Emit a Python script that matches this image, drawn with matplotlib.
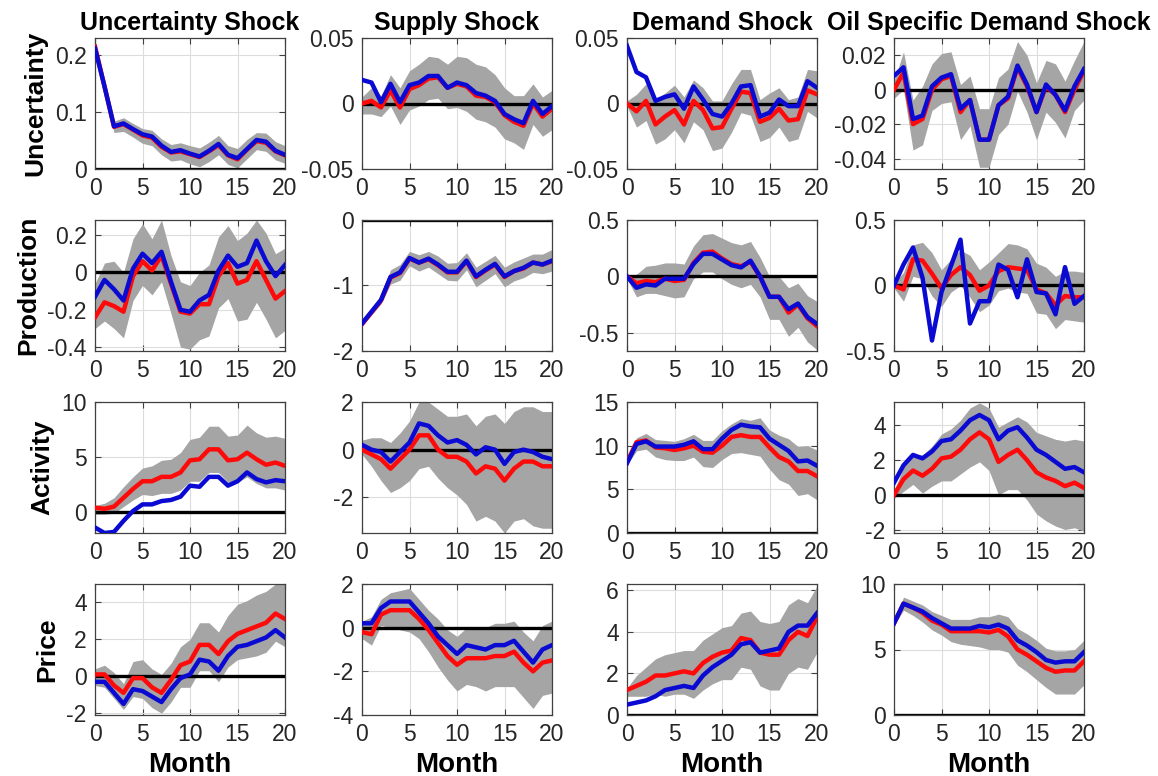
import numpy as np
import matplotlib.pyplot as plt
from matplotlib.ticker import FuncFormatter

plt.rcParams['font.family'] = ['Liberation Sans', 'DejaVu Sans']

months = np.arange(21)
shock_titles = ['Uncertainty Shock', 'Supply Shock', 'Demand Shock', 'Oil Specific Demand Shock']
response_labels = ['Uncertainty', 'Production', 'Activity', 'Price']

# ---------------- Uncertainty response ----------------
unc_u_red = [0.215, 0.145, 0.074, 0.079, 0.069, 0.059, 0.055, 0.039, 0.029, 0.031, 0.026, 0.021, 0.031, 0.042, 0.024, 0.017, 0.034, 0.049, 0.046, 0.031, 0.024]
unc_u_blue = [0.212, 0.145, 0.075, 0.080, 0.070, 0.061, 0.057, 0.041, 0.030, 0.033, 0.027, 0.022, 0.032, 0.044, 0.025, 0.019, 0.035, 0.051, 0.048, 0.032, 0.025]
unc_u_hi = [0.220, 0.152, 0.084, 0.090, 0.080, 0.071, 0.068, 0.053, 0.043, 0.046, 0.041, 0.037, 0.047, 0.059, 0.041, 0.036, 0.052, 0.064, 0.063, 0.048, 0.041]
unc_u_lo = [0.208, 0.138, 0.064, 0.066, 0.056, 0.045, 0.041, 0.025, 0.014, 0.016, 0.009, 0.004, 0.013, 0.025, 0.008, 0.002, 0.018, 0.034, 0.031, 0.016, 0.010]

sup_u_red = [0.000, 0.002, -0.003, 0.010, -0.003, 0.011, 0.014, 0.019, 0.020, 0.012, 0.015, 0.013, 0.006, 0.005, 0.001, -0.009, -0.014, -0.017, 0.000, -0.010, -0.004]
sup_u_blue = [0.018, 0.016, 0.001, 0.015, 0.001, 0.014, 0.016, 0.021, 0.021, 0.012, 0.016, 0.014, 0.008, 0.006, 0.002, -0.008, -0.012, -0.015, 0.002, -0.008, -0.002]
sup_u_hi = [0.005, 0.012, 0.006, 0.022, 0.012, 0.025, 0.030, 0.036, 0.035, 0.030, 0.036, 0.035, 0.030, 0.028, 0.022, 0.012, 0.006, 0.006, 0.015, 0.005, 0.010]
sup_u_lo = [-0.008, -0.008, -0.010, -0.002, -0.016, -0.005, -0.002, 0.003, 0.004, -0.004, -0.003, -0.006, -0.012, -0.014, -0.018, -0.027, -0.030, -0.035, -0.016, -0.025, -0.020]

dem_u_red = [0.000, -0.006, 0.002, -0.016, -0.010, -0.005, -0.016, 0.002, -0.005, -0.019, -0.018, -0.004, 0.009, 0.008, -0.014, -0.011, -0.004, -0.013, -0.012, 0.010, 0.007]
dem_u_blue = [0.044, 0.024, 0.020, 0.002, 0.005, 0.007, -0.004, 0.013, 0.003, -0.008, -0.010, 0.000, 0.013, 0.014, -0.010, -0.007, 0.003, -0.002, -0.002, 0.017, 0.012]
dem_u_hi = [0.002, 0.007, 0.015, 0.003, 0.008, 0.014, 0.005, 0.018, 0.012, 0.002, 0.002, 0.015, 0.026, 0.026, 0.003, 0.008, 0.012, 0.003, 0.005, 0.026, 0.025]
dem_u_lo = [-0.002, -0.018, -0.013, -0.031, -0.027, -0.020, -0.030, -0.014, -0.020, -0.036, -0.034, -0.022, -0.007, -0.009, -0.029, -0.026, -0.018, -0.029, -0.027, -0.006, -0.011]

oil_u_red = [0.000, 0.010, -0.020, -0.017, 0.000, 0.006, 0.008, -0.013, -0.006, -0.029, -0.029, -0.009, -0.005, 0.013, 0.002, -0.013, 0.002, -0.003, -0.013, 0.000, 0.011]
oil_u_blue = [0.008, 0.013, -0.017, -0.015, 0.002, 0.007, 0.009, -0.011, -0.006, -0.029, -0.029, -0.009, -0.004, 0.014, 0.003, -0.013, 0.003, -0.003, -0.012, 0.002, 0.012]
oil_u_hi = [0.005, 0.022, -0.006, 0.002, 0.015, 0.021, 0.022, 0.003, 0.008, -0.011, -0.011, 0.007, 0.012, 0.028, 0.020, 0.004, 0.017, 0.015, 0.005, 0.017, 0.028]
oil_u_lo = [-0.005, 0.000, -0.035, -0.032, -0.012, -0.008, -0.007, -0.029, -0.021, -0.045, -0.045, -0.026, -0.020, -0.001, -0.013, -0.029, -0.013, -0.019, -0.028, -0.012, -0.006]

# ---------------- Production response ----------------
unc_q_red = [-0.24, -0.16, -0.18, -0.21, -0.02, 0.06, 0.01, 0.09, -0.06, -0.21, -0.22, -0.17, -0.17, -0.02, 0.05, -0.06, -0.04, 0.06, -0.04, -0.14, -0.10]
unc_q_blue = [-0.13, -0.04, -0.09, -0.15, 0.02, 0.10, 0.05, 0.11, -0.05, -0.20, -0.21, -0.15, -0.12, 0.01, 0.09, 0.03, 0.05, 0.17, 0.06, -0.02, 0.04]
unc_q_hi = [-0.06, 0.05, 0.06, 0.00, 0.18, 0.26, 0.18, 0.28, 0.09, -0.05, -0.07, 0.00, 0.04, 0.19, 0.25, 0.17, 0.21, 0.28, 0.21, 0.10, 0.13]
unc_q_lo = [-0.30, -0.26, -0.30, -0.35, -0.15, -0.07, -0.12, -0.05, -0.22, -0.40, -0.41, -0.36, -0.34, -0.19, -0.14, -0.26, -0.25, -0.16, -0.25, -0.35, -0.31]

sup_q_red = [-1.59, -1.41, -1.23, -0.88, -0.81, -0.59, -0.65, -0.60, -0.69, -0.80, -0.80, -0.63, -0.87, -0.77, -0.68, -0.87, -0.78, -0.74, -0.65, -0.68, -0.63]
sup_q_blue = [-1.58, -1.40, -1.22, -0.87, -0.80, -0.58, -0.65, -0.59, -0.68, -0.79, -0.79, -0.62, -0.86, -0.76, -0.67, -0.86, -0.78, -0.73, -0.65, -0.68, -0.62]
sup_q_hi = [-1.55, -1.35, -1.15, -0.76, -0.68, -0.48, -0.53, -0.48, -0.55, -0.66, -0.65, -0.50, -0.72, -0.63, -0.54, -0.72, -0.64, -0.58, -0.52, -0.52, -0.45]
sup_q_lo = [-1.62, -1.45, -1.28, -0.98, -0.92, -0.70, -0.78, -0.72, -0.82, -0.92, -0.93, -0.76, -1.02, -0.92, -0.82, -1.02, -0.93, -0.88, -0.80, -0.82, -0.78]

dem_q_red = [0.00, -0.06, -0.04, -0.05, -0.02, -0.04, -0.03, 0.12, 0.21, 0.22, 0.16, 0.11, 0.09, 0.13, 0.00, -0.18, -0.18, -0.32, -0.25, -0.37, -0.44]
dem_q_blue = [0.00, -0.10, -0.07, -0.08, -0.02, -0.02, -0.02, 0.11, 0.20, 0.20, 0.15, 0.10, 0.08, 0.14, 0.00, -0.18, -0.18, -0.29, -0.24, -0.36, -0.42]
dem_q_hi = [0.00, 0.02, 0.09, 0.10, 0.12, 0.12, 0.11, 0.27, 0.37, 0.38, 0.34, 0.30, 0.28, 0.31, 0.17, 0.00, 0.00, -0.10, -0.06, -0.17, -0.22]
dem_q_lo = [-0.02, -0.18, -0.15, -0.15, -0.17, -0.19, -0.18, -0.02, 0.04, 0.04, -0.02, -0.07, -0.10, -0.07, -0.18, -0.38, -0.38, -0.53, -0.45, -0.58, -0.65]

oil_q_red = [0.00, -0.03, 0.20, 0.19, 0.09, -0.02, 0.08, 0.14, 0.08, -0.04, 0.00, 0.11, 0.14, 0.13, 0.12, -0.03, -0.06, -0.15, -0.08, -0.09, -0.09]
oil_q_blue = [0.00, 0.16, 0.29, 0.06, -0.42, -0.05, 0.15, 0.35, -0.29, -0.12, -0.12, 0.16, 0.12, -0.09, 0.20, -0.05, -0.06, -0.22, 0.14, -0.14, -0.08]
oil_q_hi = [0.02, 0.10, 0.31, 0.33, 0.25, 0.12, 0.20, 0.27, 0.23, 0.12, 0.18, 0.25, 0.32, 0.31, 0.28, 0.17, 0.14, 0.07, 0.11, 0.11, 0.10]
oil_q_lo = [-0.02, -0.12, 0.07, 0.05, -0.08, -0.16, -0.05, 0.00, -0.09, -0.20, -0.15, -0.04, -0.02, -0.05, -0.06, -0.21, -0.22, -0.33, -0.26, -0.27, -0.28]

# ---------------- Activity response ----------------
unc_a_red = [0.4, 0.3, 0.5, 1.3, 2.1, 2.8, 2.8, 3.2, 3.2, 3.6, 4.7, 4.8, 5.7, 5.7, 4.7, 4.8, 5.4, 4.8, 4.3, 4.5, 4.2]
unc_a_blue = [-1.4, -1.9, -1.8, -0.8, 0.1, 0.7, 0.7, 1.0, 1.1, 1.4, 2.4, 2.3, 3.2, 3.2, 2.4, 2.8, 3.6, 3.0, 2.7, 2.9, 2.8]
unc_a_hi = [0.6, 0.8, 1.3, 2.3, 3.2, 4.0, 4.2, 4.7, 4.8, 5.4, 6.6, 6.8, 7.8, 7.8, 6.9, 7.0, 7.9, 7.2, 6.8, 6.9, 6.7]
unc_a_lo = [-0.2, -0.2, -0.1, 0.5, 1.1, 1.6, 1.5, 1.7, 1.7, 2.0, 2.8, 2.8, 3.6, 3.6, 2.7, 2.7, 3.2, 2.6, 2.2, 2.2, 2.0]

sup_a_red = [0.0, -0.2, -0.4, -0.8, -0.4, 0.0, 0.6, 0.6, 0.0, -0.3, -0.3, -0.5, -1.0, -0.7, -0.8, -1.3, -0.8, -0.5, -0.5, -0.7, -0.7]
sup_a_blue = [0.2, 0.0, -0.1, -0.5, -0.1, 0.3, 1.1, 1.0, 0.6, 0.3, 0.4, 0.2, -0.2, 0.1, 0.0, -0.6, -0.1, 0.0, -0.1, -0.3, -0.4]
sup_a_hi = [0.4, 0.5, 0.5, 0.3, 0.7, 1.2, 2.0, 2.0, 1.7, 1.4, 1.4, 1.5, 1.0, 1.4, 1.5, 1.1, 1.6, 1.8, 1.8, 1.6, 1.6]
sup_a_lo = [-0.2, -0.7, -1.3, -1.8, -1.6, -1.3, -0.8, -0.7, -1.2, -1.6, -1.9, -2.3, -3.0, -2.8, -3.0, -3.5, -3.0, -2.9, -3.2, -3.3, -3.3]

dem_a_red = [8.1, 10.4, 10.6, 9.8, 9.7, 9.5, 9.7, 10.0, 9.3, 9.2, 10.0, 11.0, 11.2, 11.0, 11.0, 9.8, 8.7, 8.2, 7.1, 7.1, 6.5]
dem_a_blue = [8.0, 10.2, 10.5, 9.9, 9.9, 9.9, 10.1, 10.5, 9.6, 9.6, 10.8, 11.8, 12.4, 12.2, 12.1, 10.8, 10.1, 9.4, 8.2, 8.3, 7.7]
dem_a_hi = [8.4, 10.9, 11.4, 10.7, 10.6, 10.5, 10.8, 11.3, 10.6, 10.6, 11.7, 12.5, 13.1, 12.9, 13.2, 11.8, 11.2, 10.8, 9.9, 10.0, 9.5]
dem_a_lo = [7.8, 9.4, 9.6, 8.7, 8.4, 8.3, 8.3, 8.7, 7.6, 7.5, 8.4, 9.1, 9.2, 9.0, 8.8, 7.3, 6.1, 5.6, 4.3, 4.5, 3.8]

oil_a_red = [0.0, 0.9, 1.4, 1.1, 1.5, 2.1, 2.2, 2.6, 3.2, 3.6, 3.2, 1.9, 2.3, 2.6, 2.0, 1.3, 1.0, 0.8, 0.5, 0.7, 0.4]
oil_a_blue = [0.7, 1.7, 2.3, 2.1, 2.5, 3.1, 3.2, 3.7, 4.3, 4.6, 4.3, 3.2, 3.7, 3.9, 3.3, 2.6, 2.3, 1.9, 1.5, 1.6, 1.3]
oil_a_hi = [0.2, 1.6, 2.3, 2.3, 2.8, 3.5, 3.8, 4.3, 5.0, 5.3, 5.0, 3.9, 4.2, 4.5, 4.2, 3.6, 3.4, 3.2, 3.1, 3.2, 3.1]
oil_a_lo = [-0.2, 0.2, 0.6, 0.1, 0.5, 0.8, 0.8, 1.2, 1.6, 1.9, 1.4, 0.0, 0.3, 0.3, -0.3, -1.1, -1.5, -1.8, -2.0, -1.9, -2.1]

# ---------------- Price response ----------------
unc_p_red = [0.1, 0.1, -0.5, -0.9, -0.1, -0.1, -0.6, -0.9, -0.2, 0.6, 0.8, 1.7, 1.7, 1.2, 1.9, 2.3, 2.5, 2.7, 2.9, 3.4, 3.1]
unc_p_blue = [-0.3, -0.3, -0.9, -1.5, -0.7, -0.8, -1.1, -1.4, -0.7, -0.1, 0.1, 0.9, 0.8, 0.3, 1.1, 1.6, 1.7, 1.9, 2.1, 2.5, 2.1]
unc_p_hi = [0.4, 0.6, 0.2, -0.4, 0.8, 0.9, 0.4, 0.1, 0.7, 1.6, 2.0, 2.9, 2.9, 2.4, 3.3, 3.9, 4.1, 4.4, 4.6, 5.0, 5.0]
unc_p_lo = [-0.5, -0.6, -1.2, -1.8, -1.1, -1.2, -1.7, -2.0, -1.4, -0.6, -0.6, 0.3, 0.3, -0.3, 0.5, 0.9, 1.0, 1.1, 1.3, 1.9, 1.6]

sup_p_red = [-0.2, -0.3, 0.6, 0.8, 0.8, 0.8, 0.4, -0.1, -0.7, -1.3, -1.7, -1.4, -1.4, -1.4, -1.3, -1.3, -1.1, -1.6, -2.0, -1.6, -1.5]
sup_p_blue = [0.2, 0.2, 0.9, 1.2, 1.2, 1.2, 0.7, 0.2, -0.4, -0.8, -1.2, -0.8, -0.9, -1.0, -0.8, -0.8, -0.6, -1.1, -1.6, -1.0, -0.8]
sup_p_hi = [0.3, 0.5, 1.3, 1.6, 1.7, 1.8, 1.3, 0.8, 0.4, -0.1, -0.4, 0.0, 0.0, 0.0, 0.2, 0.2, 0.3, -0.2, -0.6, 0.1, 0.3]
sup_p_lo = [-0.5, -0.8, 0.1, 0.0, -0.1, -0.2, -0.5, -1.1, -1.8, -2.4, -2.9, -2.6, -2.7, -2.9, -2.7, -2.7, -2.7, -3.2, -3.7, -3.1, -3.0]

dem_p_red = [1.2, 1.4, 1.6, 1.9, 1.9, 2.0, 2.1, 2.0, 2.5, 2.8, 3.0, 3.1, 3.7, 3.6, 3.0, 2.9, 2.9, 3.6, 4.0, 3.8, 4.7]
dem_p_blue = [0.5, 0.6, 0.7, 0.9, 1.2, 1.3, 1.4, 1.3, 1.9, 2.3, 2.6, 2.9, 3.4, 3.5, 3.0, 3.1, 3.2, 4.0, 4.3, 4.3, 4.9]
dem_p_hi = [1.3, 1.9, 2.3, 2.7, 2.9, 3.0, 3.1, 3.1, 3.6, 3.9, 4.2, 4.3, 4.9, 5.0, 4.5, 4.4, 4.5, 5.3, 5.6, 5.4, 6.2]
dem_p_lo = [0.9, 0.9, 0.9, 1.0, 0.9, 1.0, 1.0, 0.8, 1.2, 1.5, 1.7, 1.7, 2.3, 2.2, 1.4, 1.2, 1.2, 2.0, 2.3, 2.2, 3.0]

oil_p_red = [7.0, 8.5, 8.2, 7.8, 7.2, 6.9, 6.4, 6.4, 6.4, 6.4, 6.3, 6.5, 6.0, 5.0, 4.6, 4.1, 3.6, 3.3, 3.4, 3.4, 4.1]
oil_p_blue = [7.0, 8.5, 8.2, 7.9, 7.4, 7.0, 6.6, 6.6, 6.6, 6.8, 6.7, 6.9, 6.6, 5.7, 5.3, 4.8, 4.2, 4.0, 4.1, 4.1, 4.8]
oil_p_hi = [7.2, 9.0, 8.7, 8.4, 7.9, 7.6, 7.3, 7.3, 7.3, 7.5, 7.5, 7.7, 7.5, 6.6, 6.2, 5.7, 5.1, 4.9, 4.9, 5.0, 5.7]
oil_p_lo = [6.8, 8.0, 7.6, 7.1, 6.5, 6.1, 5.6, 5.4, 5.3, 5.2, 5.0, 5.0, 4.8, 3.8, 3.3, 2.7, 2.1, 1.6, 1.6, 1.6, 2.3]

# axis ranges and y ticks, one row per response variable
y_limits = [
    [(0, 0.23), (-0.05, 0.05), (-0.05, 0.05), (-0.046, 0.03)],
    [(-0.42, 0.28), (-2, 0), (-0.66, 0.5), (-0.5, 0.5)],
    [(-1.9, 10), (-3.5, 2), (0, 15), (-2.2, 5.35)],
    [(-2.1, 5), (-4, 2), (0, 6.3), (0, 10)],
]
y_ticks = [
    [[0, 0.1, 0.2], [-0.05, 0, 0.05], [-0.05, 0, 0.05], [-0.04, -0.02, 0, 0.02]],
    [[-0.4, -0.2, 0, 0.2], [-2, -1, 0], [-0.5, 0, 0.5], [-0.5, 0, 0.5]],
    [[0, 5, 10], [-2, 0, 2], [0, 5, 10, 15], [-2, 0, 2, 4]],
    [[-2, 0, 2, 4], [-4, -2, 0, 2], [0, 2, 4, 6], [0, 5, 10]],
]

panels = [
    [(unc_u_lo, unc_u_hi, unc_u_red, unc_u_blue), (sup_u_lo, sup_u_hi, sup_u_red, sup_u_blue),
     (dem_u_lo, dem_u_hi, dem_u_red, dem_u_blue), (oil_u_lo, oil_u_hi, oil_u_red, oil_u_blue)],
    [(unc_q_lo, unc_q_hi, unc_q_red, unc_q_blue), (sup_q_lo, sup_q_hi, sup_q_red, sup_q_blue),
     (dem_q_lo, dem_q_hi, dem_q_red, dem_q_blue), (oil_q_lo, oil_q_hi, oil_q_red, oil_q_blue)],
    [(unc_a_lo, unc_a_hi, unc_a_red, unc_a_blue), (sup_a_lo, sup_a_hi, sup_a_red, sup_a_blue),
     (dem_a_lo, dem_a_hi, dem_a_red, dem_a_blue), (oil_a_lo, oil_a_hi, oil_a_red, oil_a_blue)],
    [(unc_p_lo, unc_p_hi, unc_p_red, unc_p_blue), (sup_p_lo, sup_p_hi, sup_p_red, sup_p_blue),
     (dem_p_lo, dem_p_hi, dem_p_red, dem_p_blue), (oil_p_lo, oil_p_hi, oil_p_red, oil_p_blue)],
]

W, H = 1158, 776
fig = plt.figure(figsize=(W / 100, H / 100), dpi=100)

# axes boxes in pixels
col_left = [95, 362, 627, 894]
row_top = [38, 220, 402, 584]
box_w, box_h = 190, 131

fmt = FuncFormatter(lambda v, pos: f'{v:g}')

for r in range(4):
    for c in range(4):
        x0 = col_left[c] / W
        y0 = 1 - (row_top[r] + box_h) / H
        ax = fig.add_axes([x0, y0, box_w / W, box_h / H])
        lo, hi, red, blue = panels[r][c]

        ax.fill_between(months, lo, hi, color='#a5a5a5', linewidth=0, zorder=1)
        ax.axhline(0, color='black', linewidth=2.4, zorder=2)
        ax.plot(months, red, color='#ff0a0a', linewidth=3.2, zorder=3)
        ax.plot(months, blue, color='#0a0ad2', linewidth=3.2, zorder=4)

        ax.set_xlim(0, 20)
        ax.set_ylim(*y_limits[r][c])
        ax.set_xticks([0, 5, 10, 15, 20])
        ax.set_yticks(y_ticks[r][c])
        ax.yaxis.set_major_formatter(fmt)
        ax.grid(True, color='#dcdcdc', linewidth=0.8, zorder=0)
        ax.set_axisbelow(True)
        ax.tick_params(direction='in', top=True, right=True, length=4,
                       width=0.8, color='#404040', labelsize=16.5, pad=6,
                       labelcolor='#262626')
        for side in ax.spines.values():
            side.set_color('#404040')
            side.set_linewidth(0.9)

        if r == 0:
            ax.set_title(shock_titles[c], fontsize=18, fontweight='bold', pad=6)
        if c == 0:
            ax.set_ylabel(response_labels[r], fontsize=19, fontweight='bold', labelpad=5)
        if r == 3:
            ax.set_xlabel('Month', fontsize=20, fontweight='bold', labelpad=4)

fig.savefig('out.png', dpi=100)
